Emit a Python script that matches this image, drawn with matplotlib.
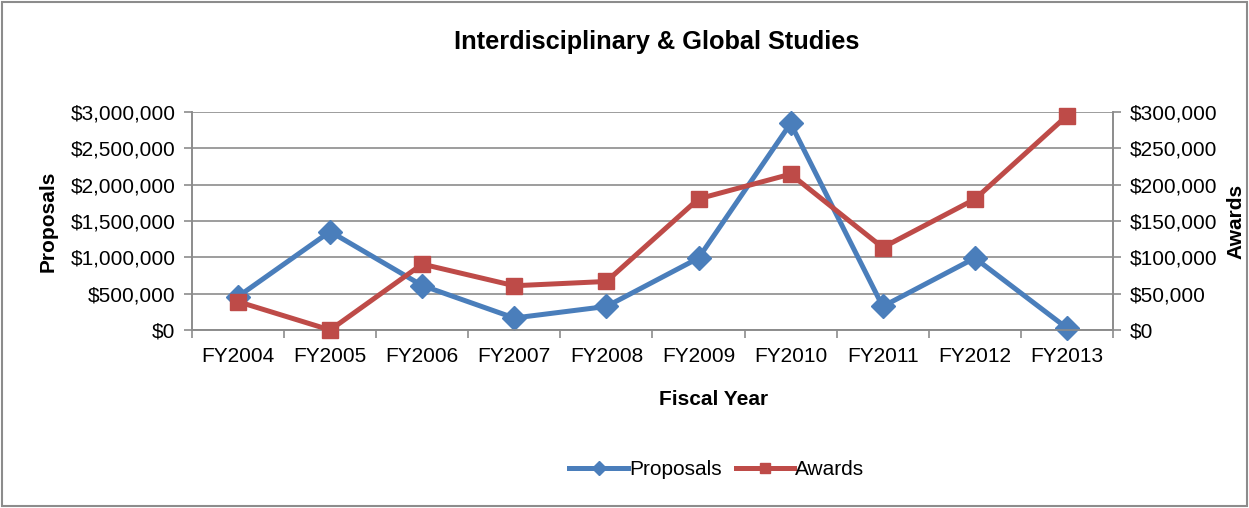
import numpy as np
import matplotlib
matplotlib.use('Agg')
import matplotlib.pyplot as plt
from matplotlib.ticker import FuncFormatter
from matplotlib.patches import Rectangle

plt.rcParams['font.family'] = ['Liberation Sans', 'DejaVu Sans']

# Data per fiscal year
years = ['FY2004', 'FY2005', 'FY2006', 'FY2007', 'FY2008',
         'FY2009', 'FY2010', 'FY2011', 'FY2012', 'FY2013']
proposals = [460000, 1355000, 612000, 165000, 324000,
             990000, 2843000, 324000, 990000, 27000]
awards = [39000, 0, 90700, 60900, 66800,
          180500, 214500, 113500, 180000, 294800]

blue = '#4A7EBB'
red = '#BE4B48'
grid_col = '#8C8C8C'
fs = 15

fig = plt.figure(figsize=(12.49, 5.08), dpi=100)
fig.patches.append(Rectangle((0.0015, 0.003), 0.997, 0.994, transform=fig.transFigure,
                             fill=False, edgecolor='#8C8C8C', linewidth=1.5))

ax = fig.add_axes([0.1537, 0.3504, 0.7374, 0.4291])
ax2 = ax.twinx()

x = np.arange(len(years))
ax.plot(x, proposals, color=blue, lw=3.6, marker='D', ms=12, label='Proposals',
        clip_on=False, zorder=3)
ax2.plot(x, awards, color=red, lw=3.6, marker='s', ms=12, label='Awards',
         clip_on=False, zorder=3)

ax.set_xlim(-0.5, len(years) - 0.5)
ax.set_ylim(0, 3000000)
ax2.set_ylim(0, 300000)
ax.set_yticks(np.arange(0, 3000001, 500000))
ax2.set_yticks(np.arange(0, 300001, 50000))

money = FuncFormatter(lambda v, p: '${:,.0f}'.format(v))
ax.yaxis.set_major_formatter(money)
ax2.yaxis.set_major_formatter(money)

ax.set_xticks(x)
ax.set_xticklabels(years)
ax.set_xticks(np.arange(-0.5, len(years)), minor=True)
ax.tick_params(axis='x', which='major', length=0, pad=12, labelsize=fs)
ax.tick_params(axis='x', which='minor', length=6, color=grid_col, width=1.2)
ax.tick_params(axis='y', length=6, color=grid_col, width=1.2, labelsize=fs, pad=6)
ax2.tick_params(axis='y', length=6, color=grid_col, width=1.2, labelsize=fs, pad=6)

ax.grid(axis='y', color=grid_col, lw=1.2)
ax.set_axisbelow(True)
for a in (ax, ax2):
    a.spines['top'].set_visible(False)
    for s in ('left', 'right', 'bottom'):
        a.spines[s].set_color(grid_col)
        a.spines[s].set_linewidth(1.2)

# axis titles
fig.text(0.0388, 0.5650, 'Proposals', rotation=90, ha='center', va='center',
         fontsize=fs, fontweight='bold')
fig.text(0.9895, 0.5650, 'Awards', rotation=90, ha='center', va='center',
         fontsize=fs, fontweight='bold')
fig.text(0.5717, 0.2126, 'Fiscal Year', ha='center', va='center',
         fontsize=fs, fontweight='bold')
fig.text(0.526, 0.917, 'Interdisciplinary & Global Studies', ha='center', va='center',
         fontsize=18.3, fontweight='bold')

h1, l1 = ax.get_legend_handles_labels()
h2, l2 = ax2.get_legend_handles_labels()
fig.legend(h1 + h2, l1 + l2, loc='center', bbox_to_anchor=(0.574, 0.075), ncol=2,
           frameon=False, fontsize=fs, handlelength=2.8, handletextpad=0.05,
           columnspacing=0.7, markerscale=0.6)

fig.savefig('out.png', dpi=100)
